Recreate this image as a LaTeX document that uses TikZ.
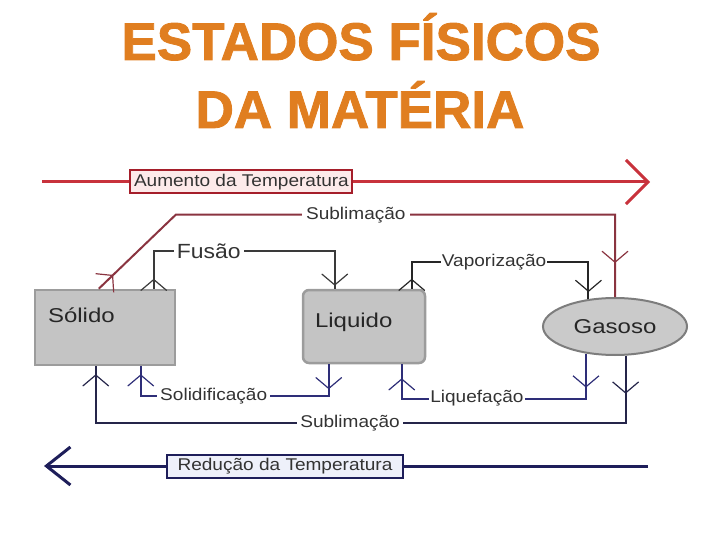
\documentclass[tikz,border=0pt]{standalone}
\usepackage{fontspec}
\setmainfont{Liberation Sans}
\newfontfamily\rotulofont[FakeStretch=1.12]{Liberation Sans}
\newfontfamily\estadofont[FakeStretch=1.2]{Liberation Sans}
\newfontfamily\titulofont[FakeBold=1.6]{Liberation Sans Bold}
\usetikzlibrary{arrows.meta,shapes.geometric,decorations.markings,positioning}

\definecolor{laranja}{HTML}{E07E20}
\definecolor{vermelho}{HTML}{C8323C}
\definecolor{vermelhoesc}{HTML}{A51E2A}
\definecolor{rosa}{HTML}{FDEAEA}
\definecolor{vinho}{HTML}{8A3440}
\definecolor{cinzaesc}{HTML}{3A3A3A}
\definecolor{azul}{HTML}{2E2E78}
\definecolor{azulesc}{HTML}{25254A}
\definecolor{marinho}{HTML}{1E1E5A}
\definecolor{azulclaro}{HTML}{EEF0FA}
\definecolor{caixacinza}{HTML}{C4C4C4}
\definecolor{bordacinza}{HTML}{9C9C9C}

\tikzset{barb/.tip={Straight Barb[length=11pt,width=26pt,line width=1.2pt]}}

\begin{document}
\begin{tikzpicture}[x=1pt, y=-1pt,
    titulo/.style={text=laranja, font=\titulofont\fontsize{53}{60}\selectfont, inner sep=0pt},
    estado/.style={draw=bordacinza, fill=caixacinza, line width=2.5pt, text=black!85,
        font=\estadofont\fontsize{20}{24}\selectfont, align=left, text height=18pt},
    rotulo/.style={fill=white, inner xsep=3pt, inner ysep=1pt, text=black!80,
        font=\rotulofont\fontsize{17}{20}\selectfont},
    seta/.style 2 args={line width=2pt, postaction={decorate},
        decoration={markings, mark=at position #1 with {\arrow{barb}},
            mark=at position #2 with {\arrow{barb}}}},
    temp/.style={line width=3pt},
    caixatemp/.style={line width=2pt, minimum height=23pt, inner sep=0pt, text=black!80,
        font=\rotulofont\fontsize{17}{20}\selectfont}]
  \useasboundingbox (0,0) rectangle (720,540);

  % titulo
  \node[titulo, anchor=base] (tit1) at (361,60) {ESTADOS FÍSICOS};
  \node[titulo, anchor=base] (tit2) at (360,128) {DA MATÉRIA};

  % estados
  \node[estado, minimum width=140pt, minimum height=75pt, inner xsep=13pt, text width=114pt,
        text depth=29pt] (sol) at (105,327.5) {Sólido};
  \node[estado, rounded corners=6pt, minimum width=122pt, minimum height=73pt, inner xsep=12pt,
        text width=98pt, text depth=17pt] (liq) at (364,326.5) {Liquido};
  \node[ellipse, draw=bordacinza!80!black, fill=caixacinza!90!white, line width=2pt, inner sep=0pt,
        minimum width=144pt, minimum height=57pt, text=black!85,
        font=\estadofont\fontsize{20}{24}\selectfont] (gas) at (615,326.5) {Gasoso};

  % temperatura
  \coordinate (aumA) at (42,182);
  \coordinate (aumB) at (650,182);
  \draw[temp, draw=vermelho, -{Straight Barb[length=22pt,width=44pt]}] (aumA) --
    node[caixatemp, draw=vermelhoesc, fill=rosa, minimum width=222pt, pos=0.328] (aum)
    {Aumento da Temperatura} (aumB);
  \coordinate (redA) at (648,466);
  \coordinate (redB) at (44,466);
  \draw[temp, draw=marinho, -{Straight Barb[length=24pt,width=38pt]}] (redA) --
    node[caixatemp, draw=marinho, fill=azulclaro, minimum width=236pt, pos=0.601] (red)
    {Redução da Temperatura} (redB);

  % aquecimento
  \draw[seta={20pt}{-34pt}, draw=vinho] ([xshift=65pt]sol.north west) -- ++(77,-74)
    -| node[rotulo, inner xsep=4pt, pos=0.205] (sub1) {Sublimação} (gas.north);
  \draw[seta={10pt}{-3pt}, draw=cinzaesc] ([xshift=120pt]sol.north west) -- ++(0,-38)
    -| node[rotulo, font=\rotulofont\fontsize{20.5}{24}\selectfont, pos=0.152] (fus) {Fusão}
    ([xshift=33pt]liq.north west);
  \draw[seta={10pt}{-7pt}, draw=black!85] ([xshift=110pt]liq.north west) -- ++(0,-27)
    -| node[rotulo, inner xsep=1pt, pos=0.233] (vap) {Vaporização} (gas.134);

  % resfriamento
  \draw[seta={25pt}{-8pt}, draw=azul] ([xshift=27pt]liq.south west) -- ++(0,32)
    -| node[rotulo, pos=0.306] (solf) {Solidificação} ([xshift=107pt]sol.south west);
  \draw[seta={34pt}{-14pt}, draw=azul] (gas.223) -- ++(0,45)
    -| node[rotulo, inner xsep=1pt, pos=0.296] (liqf) {Liquefação} ([xshift=100pt]liq.south west);
  \draw[seta={38pt}{-8pt}, draw=azulesc] (gas.290) -- ++(0,67)
    -| node[rotulo, pos=0.26] (sub2) {Sublimação} ([xshift=62pt]sol.south west);
\end{tikzpicture}
\end{document}
